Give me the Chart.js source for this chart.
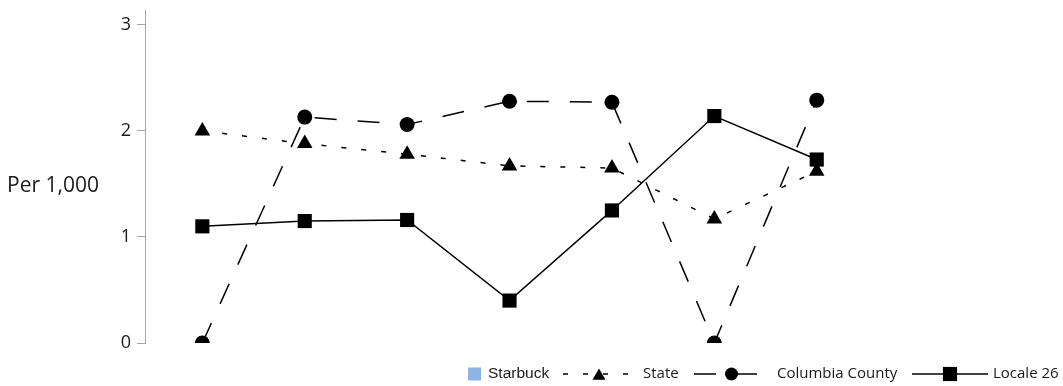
<!DOCTYPE html>
<html>
<head>
<meta charset="utf-8">
<script src="https://cdn.jsdelivr.net/npm/chart.js@4.4.1/dist/chart.umd.min.js"></script>
<style>
  html, body { margin:0; padding:0; background:#fff; }
  #wrap { position:relative; width:1063px; height:386px; }
</style>
</head>
<body>
<div id="wrap"><canvas id="c" width="1063" height="386"></canvas></div>
<script>
(function(){
  // data (x = period index, no labels shown)
  const periods = [0, 1, 2, 3, 4, 5, 6];
  const starbuck = [null, null, null, null, null, null, null];
  const state = [2.00, 1.88, 1.78, 1.67, 1.65, 1.17, 1.62];
  const columbia = [0, 2.13, 2.06, 2.28, 2.27, 0, 2.29];
  const locale26 = [1.10, 1.15, 1.16, 0.40, 1.25, 2.14, 1.73];
  const yTicks = [0, 1, 2, 3];
  const yTitle = 'Per 1,000';

  const ink = '#000';
  const axisGrey = '#a6a6a6';

  function pts(vals){
    return periods.map((p, i) => ({x: p, y: vals[i]}));
  }

  function lineSet(label, vals, style, radius, dash, order){
    return {
      label: label,
      data: pts(vals),
      borderColor: ink,
      backgroundColor: ink,
      borderWidth: 1.5,
      borderDash: dash,
      pointStyle: style,
      pointRadius: radius,
      pointHoverRadius: radius,
      pointBorderWidth: 0,
      tension: 0,
      order: order
    };
  }

  // horizontal y title at the left
  const titlePlugin = {
    id: 'ytitle',
    afterDraw(chart){
      const ctx = chart.ctx;
      ctx.save();
      ctx.fillStyle = '#1a1a1a';
      ctx.font = '21px "Open Sans"';
      ctx.textBaseline = 'alphabetic';
      ctx.textAlign = 'left';
      ctx.fillText(yTitle, 7, 192);
      ctx.restore();
    }
  };

  // legend: line sample with marker, like the reference
  const legendSlots = [
    {x0:468, x1:481, tx:488, font:'15.5px "Liberation Sans"', pr:0},
    {x0:563, x1:635, tx:643, font:'15px "Open Sans"', pr:7.5},
    {x0:694, x1:757, tx:777, font:'15px "Open Sans"', pr:6.5},
    {x0:912, x1:988, tx:993, font:'15px "Open Sans"', pr:10}
  ];
  const legendPlugin = {
    id: 'lineLegend',
    afterDraw(chart){
      const ctx = chart.ctx;
      const y = 374;
      chart.data.datasets.forEach((ds, i) => {
        const s = legendSlots[i];
        ctx.save();
        if (ds.isBox) {
          ctx.fillStyle = ds.backgroundColor;
          ctx.fillRect(s.x0, y - 6.5, s.x1 - s.x0, 13);
        } else {
          ctx.strokeStyle = ds.borderColor;
          ctx.lineWidth = 1.5;
          ctx.setLineDash(ds.borderDash || []);
          ctx.beginPath();
          ctx.moveTo(s.x0, y);
          ctx.lineTo(s.x1, y);
          ctx.stroke();
          ctx.setLineDash([]);
          ctx.fillStyle = ds.backgroundColor;
          Chart.helpers.drawPoint(ctx, {pointStyle: ds.pointStyle, radius: s.pr, borderWidth: 0, rotation: 0},
            (s.x0 + s.x1) / 2 + (ds.pointStyle === 'circle' ? 6 : 0), ds.pointStyle === 'triangle' ? y + 2 : y);
        }
        ctx.fillStyle = '#1a1a1a';
        ctx.font = s.font;
        ctx.textBaseline = 'middle';
        ctx.textAlign = 'left';
        ctx.fillText(ds.label, s.tx, y);
        ctx.restore();
      });
    }
  };

  new Chart(document.getElementById('c').getContext('2d'), {
    type: 'line',
    data: {
      datasets: [
        {label:'Starbuck', data: pts(starbuck), isBox:true, borderColor:'#8db4e2', backgroundColor:'#8db4e2', pointRadius:0, order:4},
        lineSet('State', state, 'triangle', 9, [5, 15], 3),
        lineSet('Columbia County', columbia, 'circle', 7.5, [22, 21], 2),
        lineSet('Locale 26', locale26, 'rect', 10, [], 1)
      ]
    },
    options: {
      responsive: false,
      animation: false,
      devicePixelRatio: 1,
      layout: { padding: { top: 7, bottom: 43, right: 192, left: 0 } },
      plugins: { legend: { display: false }, tooltip: { enabled: false } },
      scales: {
        x: { type: 'linear', min: -0.56, max: 6.53, display: false },
        y: {
          min: 0, max: 3.14,
          afterBuildTicks: ax => { ax.ticks = yTicks.map(v => ({value: v})); },
          afterFit: ax => { ax.width = 145; ax.paddingTop = 0; ax.paddingBottom = 0; },
          border: { display: true, color: axisGrey, width: 1 },
          grid: { display: true, drawOnChartArea: false, drawTicks: true, tickLength: 8, color: axisGrey },
          ticks: { color: '#1a1a1a', padding: 6, font: { family: 'Open Sans', size: 18 } }
        }
      }
    },
    plugins: [titlePlugin, legendPlugin]
  });
})();
</script>
</body>
</html>
